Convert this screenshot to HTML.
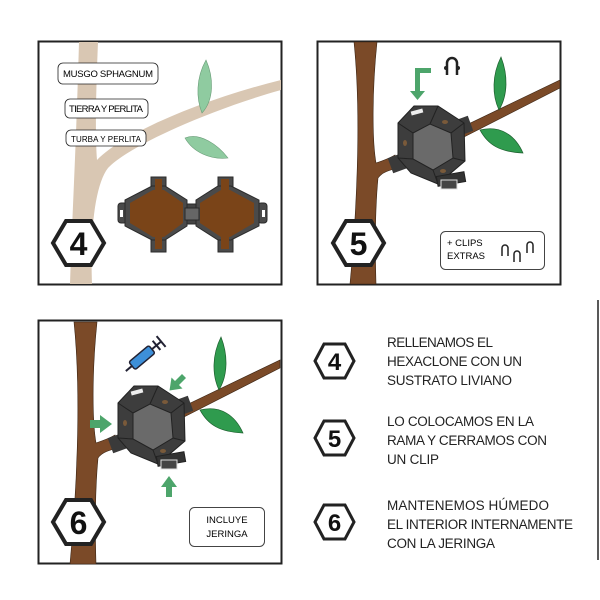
<!DOCTYPE html>
<html><head><style>
html,body{margin:0;padding:0;background:#fff;}
svg{display:block}
text{font-family:"Liberation Sans",sans-serif;}
</style></head><body>
<svg width="600" height="600" viewBox="0 0 600 600" xmlns="http://www.w3.org/2000/svg">
<defs>
<g id="dev">
  <rect x="390" y="155" width="16" height="16" fill="#3a3a3a" transform="rotate(-20 398 163)"/>
  <rect x="455" y="118" width="16" height="16" fill="#3a3a3a" transform="rotate(-20 463 126)"/>
  <polygon points="398,123 414,106 438,106 464,123 465,161 438,184 411,173 398,158" fill="#3d3d3d" stroke="#222" stroke-width="1"/>
  <polygon points="413,133 430,124 451,133 453,158 433,170 413,159" fill="#6a6a6a" stroke="#222" stroke-width="1"/>
  <line x1="398" y1="123" x2="413" y2="133" stroke="#222"/><line x1="438" y1="106" x2="430" y2="124" stroke="#222"/>
  <line x1="464" y1="123" x2="451" y2="133" stroke="#222"/><line x1="465" y1="161" x2="453" y2="158" stroke="#222"/>
  <line x1="438" y1="184" x2="433" y2="170" stroke="#222"/><line x1="398" y1="158" x2="413" y2="159" stroke="#222"/>
  <rect x="411" y="110" width="12" height="4" fill="#eee" transform="rotate(-15 417 112)"/>
  <ellipse cx="445" cy="122" rx="3" ry="2" fill="#7a5a3a"/><ellipse cx="405" cy="143" rx="2" ry="3" fill="#7a5a3a"/><ellipse cx="443" cy="171" rx="3" ry="2" fill="#7a5a3a"/>
  <rect x="437" y="174" width="28" height="10" fill="#333" stroke="#222" transform="rotate(-10 451 179)"/>
  <rect x="441" y="180" width="16" height="9" fill="#444" stroke="#ddd" stroke-width="1"/>
</g>
<g id="clip" fill="none" stroke="#222" stroke-width="2">
  <path d="M-5,10 v-10 a5,5 0 0 1 10,0 v10"/>
</g>
</defs>

<!-- Panel 1 -->
<rect x="38.5" y="41.5" width="243" height="243" fill="#fff" stroke="#222" stroke-width="2"/>
<path d="M79,42 L98,42 C96,90 95,135 97,160 C120,135 200,100 281,80 L281,90 C210,110 130,145 108,168 C95,185 90,230 92,284 L70,284 C72,220 76,150 79,42Z" fill="#d9c7b3"/>
<g fill="#8fcba0" stroke="#6a9c78" stroke-width="0.6">
<path d="M202,113 C214,100 214,78 206,60 C196,78 196,98 202,113Z"/>
<path d="M185,138 C200,132 218,145 228,158 C210,160 193,152 185,138Z"/>
</g>
<g stroke="#222" stroke-width="0.8" fill="#fff">
<rect x="58" y="63" width="100" height="21" rx="5"/>
<rect x="65" y="99" width="83" height="19" rx="5"/>
<rect x="66" y="130" width="80" height="16" rx="5"/>
</g>
<text x="108" y="77" font-size="9.5" text-anchor="middle" textLength="90">MUSGO SPHAGNUM</text>
<text x="106" y="112" font-size="9.5" text-anchor="middle" textLength="74">TIERRA Y PERLITA</text>
<text x="106" y="142" font-size="8" text-anchor="middle" textLength="70">TURBA Y PERLITA</text>
<!-- hexaclone open -->
<g stroke="#2a2a2a" stroke-width="1">
<rect x="118" y="203" width="9" height="20" rx="3" fill="#4a4a4a"/>
<rect x="151" y="177" width="15" height="75" fill="#4a4a4a"/>
<polygon points="125,200 152,186 165,186 187,200 187,226 165,240 152,240 125,226" fill="#4a4a4a"/>
<polygon points="130,203 153,190 164,190 183,203 183,223 164,237 153,237 130,223" fill="#7a4418" stroke="none"/>
<rect x="155" y="179" width="7" height="70" fill="#7a4418" stroke="none"/>
<rect x="258" y="203" width="9" height="20" rx="3" fill="#4a4a4a"/>
<rect x="218" y="177" width="15" height="75" fill="#4a4a4a"/>
<polygon points="196,200 218,186 231,186 259,200 259,226 231,240 218,240 196,226" fill="#4a4a4a"/>
<polygon points="200,203 221,190 230,190 254,203 254,223 230,237 221,237 200,223" fill="#7a4418" stroke="none"/>
<rect x="221" y="179" width="8" height="70" fill="#7a4418" stroke="none"/>
<rect x="187" y="204" width="9" height="20" fill="#444"/>
<rect x="185" y="208" width="14" height="12" fill="#666"/>
</g>
<rect x="120" y="210" width="3" height="7" fill="#fff"/><rect x="262" y="210" width="3" height="7" fill="#fff"/>

<!-- Panel 2 -->
<rect x="317.5" y="41.5" width="243" height="243" fill="#fff" stroke="#222" stroke-width="2"/>
<path d="M354,42 L377,42 C372,90 372,140 376,163 C385,160 390,158 395,155 L398,168 C390,170 382,172 378,178 C375,210 375,250 376,284 L350,284 C356,220 362,120 354,42Z" fill="#7b4a28" stroke="#3a2414" stroke-width="0.6"/>
<path d="M460,128 L560,80 L560,88 L464,137Z" fill="#7b4a28" stroke="#3a2414" stroke-width="0.6"/>
<g fill="#2f9b4e" stroke="#1d5e2e" stroke-width="0.7">
<path d="M499,110 C508,95 508,75 501,57 C492,75 492,95 499,110Z"/>
<path d="M480,130 C500,125 515,135 523,153 C500,152 488,145 480,130Z"/>
</g>
<use href="#dev"/>
<path d="M415,68 h16 v5 h-11 v18 h5 l-7.5,9 l-7.5,-9 h5 z" fill="#4da56b"/>
<g transform="translate(452,63)"><path d="M-5,12 v-12 a5,5 0 0 1 10,0 v12" fill="none" stroke="#222" stroke-width="2.5"/><circle cx="-6" cy="5" r="2" fill="#222"/><circle cx="6" cy="5" r="2" fill="#222"/></g>
<rect x="440.5" y="231.5" width="104" height="38" rx="5" fill="#fff" stroke="#444"/>
<text x="447" y="246" font-size="9.5">+ CLIPS</text>
<text x="447" y="259" font-size="9.5">EXTRAS</text>
<g fill="none" stroke="#222" stroke-width="1.5">
<path d="M502,256 v-8 a3,3 0 0 1 6,0 v8"/><path d="M514,262 v-8 a3,3 0 0 1 6,0 v8"/><path d="M527,253 v-8 a3,3 0 0 1 6,0 v8"/>
</g>

<!-- Panel 3 -->
<rect x="38.5" y="320.5" width="243" height="243" fill="#fff" stroke="#222" stroke-width="2"/>
<g transform="translate(-280,280)">
<path d="M354,42 L377,42 C372,90 372,140 376,163 C385,160 390,158 395,155 L398,168 C390,170 382,172 378,178 C375,210 375,250 376,284 L350,284 C356,220 362,120 354,42Z" fill="#7b4a28" stroke="#3a2414" stroke-width="0.6"/>
<path d="M460,128 L560,80 L560,88 L464,137Z" fill="#7b4a28" stroke="#3a2414" stroke-width="0.6"/>
<g fill="#2f9b4e" stroke="#1d5e2e" stroke-width="0.7">
<path d="M499,110 C508,95 508,75 501,57 C492,75 492,95 499,110Z"/>
<path d="M480,130 C500,125 515,135 523,153 C500,152 488,145 480,130Z"/>
</g>
<use href="#dev"/>
</g>
<!-- syringe -->
<g transform="rotate(-40 145 355)">
<rect x="128" y="350" width="26" height="10" rx="2" fill="#3d8fd8" stroke="#223" stroke-width="1.5"/>
<line x1="154" y1="355" x2="166" y2="355" stroke="#223" stroke-width="2"/>
<line x1="160" y1="349" x2="160" y2="361" stroke="#223" stroke-width="2"/>
<line x1="166" y1="348" x2="166" y2="362" stroke="#223" stroke-width="2"/>
<line x1="120" y1="355" x2="128" y2="355" stroke="#223" stroke-width="2"/>
</g>
<g fill="#4da56b">
<path d="M90,420 h10 v-5 l12,9 l-12,9 v-5 h-10z"/>
<path d="M166,497 v-10 h-5 l8,-11 l8,11 h-5 v10z"/>
<path d="M186,378 l-7,7 l3.5,3.5 l-13,2 l2,-13 l3.5,3.5 l7,-7z"/>
</g>
<rect x="189.5" y="507.5" width="75" height="39" rx="5" fill="#fff" stroke="#444"/>
<text x="227" y="523" font-size="9.5" text-anchor="middle">INCLUYE</text>
<text x="227" y="537" font-size="9.5" text-anchor="middle">JERINGA</text>

<!-- big badges -->
<g fill="#fff" stroke="#222" stroke-width="4">
<polygon points="53,243 66,221 91,221 104,243 91,265 66,265"/>
<polygon points="333,243 346,221 371,221 384,243 371,265 346,265"/>
<polygon points="53,522 66,500 91,500 104,522 91,544 66,544"/>
</g>
<g font-size="32" font-weight="bold" text-anchor="middle" fill="#111">
<text x="78.5" y="255">4</text><text x="358.5" y="255">5</text><text x="78.5" y="534">6</text>
</g>

<!-- right side -->
<line x1="598" y1="300" x2="598" y2="560" stroke="#222" stroke-width="1.5"/>
<g fill="#fff" stroke="#222" stroke-width="3">
<polygon points="315,361 324,344 345,344 354,361 345,378 324,378"/>
<polygon points="315,438 324,421 345,421 354,438 345,455 324,455"/>
<polygon points="315,522 324,505 345,505 354,522 345,539 324,539"/>
</g>
<g font-size="24" font-weight="bold" text-anchor="middle" fill="#111">
<text x="334.5" y="370">4</text><text x="334.5" y="447">5</text><text x="334.5" y="531">6</text>
</g>
<g font-size="13.5" fill="#222">
<text x="387" y="347" textLength="106">RELLENAMOS EL</text>
<text x="387" y="366" textLength="135">HEXACLONE CON UN</text>
<text x="387" y="385" textLength="125">SUSTRATO LIVIANO</text>
<text x="387" y="426" textLength="147">LO COLOCAMOS EN LA</text>
<text x="387" y="445" textLength="160">RAMA Y CERRAMOS CON</text>
<text x="387" y="464" textLength="52">UN CLIP</text>
<text x="387" y="510" textLength="162">MANTENEMOS HÚMEDO</text>
<text x="387" y="529" textLength="186">EL INTERIOR INTERNAMENTE</text>
<text x="387" y="548" textLength="108">CON LA JERINGA</text>
</g>
</svg>
</body></html>
